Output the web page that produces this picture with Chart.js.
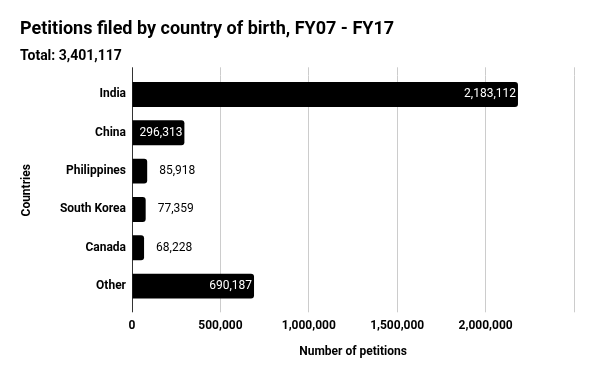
<!DOCTYPE html>
<html>
<head>
<meta charset="utf-8">
<script src="https://cdn.jsdelivr.net/npm/chart.js@4"></script>
<style>
  body { margin: 0; background: #fff; }
  canvas { display: block; }
</style>
</head>
<body>
<canvas id="chart" width="600" height="371"></canvas>
<script>
// データ
const countries = ['India', 'China', 'Philippines', 'South Korea', 'Canada', 'Other'];
const petitions = [2183112, 296313, 85918, 77359, 68228, 690187];
const axisMax = 2500000;
const axisStep = 500000;

const titleText = 'Petitions filed by country of birth, FY07 - FY17';
const subtitleText = 'Total: 3,401,117';

Chart.defaults.font.family = 'Roboto';
Chart.defaults.color = '#000';

const fmt = v => v.toLocaleString('en-US');

// バーの値ラベル（入るなら中に白、入らないなら外に黒）
const valueLabels = {
    id: 'valueLabels',
    afterDatasetsDraw(chart) {
        const ctx = chart.ctx;
        const meta = chart.getDatasetMeta(0);
        ctx.save();
        ctx.font = '12px Roboto';
        ctx.textBaseline = 'middle';
        meta.data.forEach((bar, i) => {
            const text = fmt(petitions[i]);
            const w = ctx.measureText(text).width;
            if (bar.x - bar.base > w + 6) {
                ctx.fillStyle = '#fff';
                ctx.textAlign = 'right';
                ctx.fillText(text, bar.x - 2, bar.y);
            } else {
                ctx.fillStyle = '#000';
                ctx.textAlign = 'left';
                ctx.fillText(text, bar.x + 12, bar.y);
            }
        });
        ctx.restore();
    }
};

const gridColor = c => (c.tick && c.tick.value === 0) ? '#333' : '#ccc';

new Chart(document.getElementById('chart'), {
    type: 'bar',
    data: {
        labels: countries,
        datasets: [{
            data: petitions,
            backgroundColor: '#000',
            borderRadius: 3,
            barPercentage: 0.65,
            categoryPercentage: 1
        }]
    },
    options: {
        indexAxis: 'y',
        responsive: false,
        animation: false,
        layout: { padding: { left: 20, right: 26, top: 0, bottom: 0 } },
        plugins: {
            legend: { display: false },
            tooltip: { enabled: false },
            title: {
                display: true,
                text: titleText,
                align: 'start',
                font: { size: 18, weight: 'bold' },
                padding: { top: 18.5, bottom: 7.5 }
            },
            subtitle: {
                display: true,
                text: subtitleText,
                align: 'start',
                font: { size: 14, weight: 'bold' },
                padding: { top: 0, bottom: 2.9 }
            }
        },
        scales: {
            x: {
                min: 0,
                max: axisMax,
                ticks: {
                    stepSize: axisStep,
                    padding: 6,
                    maxRotation: 0,
                    font: { size: 12, weight: 'bold' },
                    callback: v => v === axisMax ? '' : fmt(v)
                },
                grid: { color: gridColor, tickLength: 7 },
                border: { display: false },
                title: {
                    display: true,
                    text: 'Number of petitions',
                    font: { size: 12, weight: 'bold' },
                    padding: { top: 0, bottom: 12 }
                },
                afterFit: s => { s.height = 65.7; }
            },
            x2: {
                position: 'top',
                min: 0,
                max: axisMax,
                ticks: { stepSize: axisStep, display: false },
                grid: { color: gridColor, drawOnChartArea: false, tickLength: 8 },
                border: { display: false },
                afterFit: s => { s.height = 8; }
            },
            y: {
                grid: { display: false, drawTicks: false },
                border: { display: true, color: '#333' },
                ticks: {
                    padding: 6,
                    font: { size: 12, weight: 'bold' }
                },
                title: {
                    display: true,
                    text: 'Countries',
                    font: { size: 12, weight: 'bold' },
                    padding: { top: 0, bottom: 0 }
                },
                afterFit: s => { s.width = 112; }
            }
        }
    },
    plugins: [valueLabels]
});
</script>
</body>
</html>
